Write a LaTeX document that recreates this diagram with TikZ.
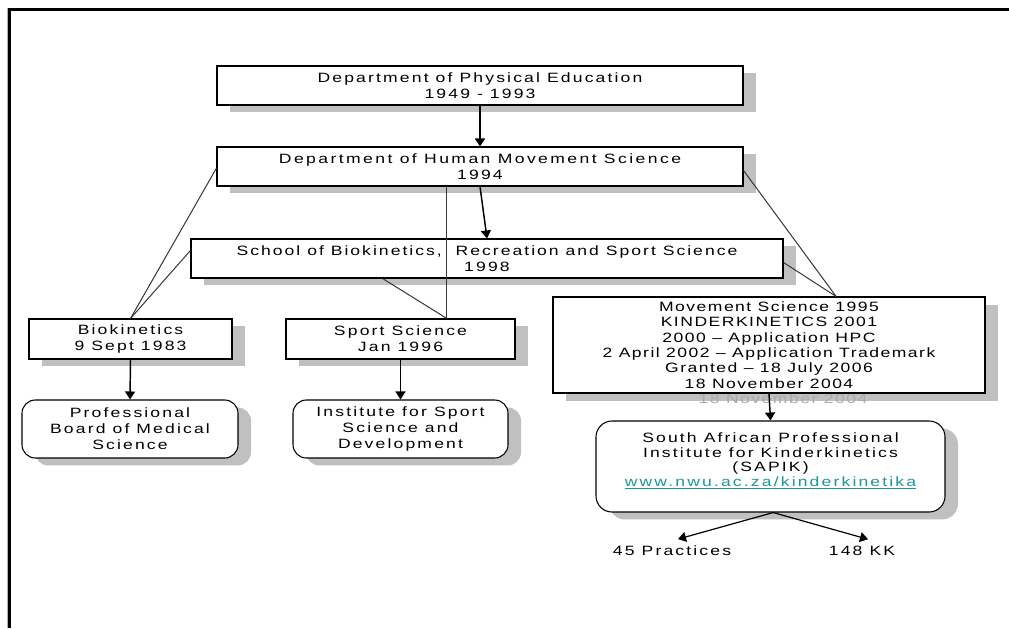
\documentclass[tikz,border=0pt]{standalone}
\usepackage{fontspec}
\setmainfont{Liberation Sans}[FakeStretch=1.3, LetterSpace=16]
\usetikzlibrary{arrows.meta,shadows,calc}
\definecolor{shadowgray}{RGB}{192,192,192}
\definecolor{linkteal}{RGB}{30,150,150}
\definecolor{ghostgray}{RGB}{170,170,170}
\definecolor{lineg}{RGB}{55,55,55}
\begin{document}
\begin{tikzpicture}[x=0.75pt,y=-0.75pt,
  every node/.style={font=\fontsize{10.125pt}{12pt}\selectfont, align=center, inner sep=0pt},
  box/.style={draw=black, line width=0.8pt, fill=white,
    drop shadow={shadow xshift=9.75pt, shadow yshift=-5.6pt, fill=shadowgray, opacity=1}},
  rbox/.style={box, rounded corners=10pt},
  conn/.style={draw=lineg, line width=0.75pt},
  arr/.style={draw=black, line width=1.1pt, -{Triangle[length=6pt,width=7.5pt]}},
  lbl/.style={inner sep=1pt}
]
\useasboundingbox (0,0) rectangle (1009,628);
\fill[white] (0,0) rectangle (1009,628);
% frame
\draw[gray!60, line width=0.75pt] (7,628) -- (7,8);
\draw[black, line width=2.4pt] (9.5,628) -- (9.5,9.5) -- (1009,9.5);

% boxes
\node[box, minimum width=394.5pt, minimum height=29.25pt] (b1) at (480,85.5)
  {Department of Physical Education\\1949 - 1993};
\node[box, minimum width=394.5pt, minimum height=29.25pt] (b2) at (480,166.5)
  {\addfontfeatures{LetterSpace=18}Department of Human Movement Science\\1994};
\node[box, minimum width=444pt, minimum height=29.25pt] (b3) at (487,258.5)
  {\addfontfeatures{LetterSpace=15}School of Biokinetics,\ \ Recreation and Sport Science\\1998};
\node[box, minimum width=152.25pt, minimum height=30pt] (bio) at (130.5,339)
  {Biokinetics\\9 Sept 1983};
\node[box, minimum width=171.75pt, minimum height=30pt] (sp) at (400.5,339)
  {Sport Science\\Jan 1996};

% movement science box with its shadow and ghost text
\fill[shadowgray] (566,304.5) rectangle (998,400.5);
\node[text=ghostgray, font=\fontsize{10.125pt}{11.55pt}\selectfont\addfontfeatures{LetterSpace=11}] (ghost) at (783,399) {18 November 2004};
\node[draw=black, line width=0.8pt, fill=white, minimum width=324pt, minimum height=72pt,
  font=\fontsize{10.125pt}{11.55pt}\selectfont\addfontfeatures{LetterSpace=11}] (mv) at (769,345)
  {Movement Science 1995\\KINDERKINETICS 2001\\2000 -- Application HPC\\2 April 2002 -- Application Trademark\\Granted -- 18 July 2006\\18 November 2004};

\node[rbox, minimum width=162pt, minimum height=43.5pt] (prof) at (130,429)
  {Professional\\Board of Medical\\Science};
\node[rbox, minimum width=161.25pt, minimum height=43.5pt] (inst) at (400.5,429)
  {Institute for Sport\\Science and\\Development};
\node[rbox, rounded corners=12pt, minimum width=261.75pt, minimum height=68.25pt] (sapik) at (770.5,466.5) {};
\node[font=\fontsize{10.125pt}{11pt}\selectfont] (sapiktext) at (770.5,461)
  {South African Professional\\Institute for Kinderkinetics\\(SAPIK)\\\textcolor{linkteal}{\underline{www.nwu.ac.za/kinderkinetika}}};

\node[lbl] (prac) at (672,551) {45 Practices};
\node[lbl] (kk) at (862,551) {148 KK};

% connection points
\coordinate (v) at ($(b2.south west)!0.437!(b2.south east)$);
\coordinate (sptop) at (v |- sp.north);
\coordinate (mvtop) at ($(mv.north west)!0.655!(mv.north east)$);

% plain connectors
\draw[conn] ($(b2.north west)!0.54!(b2.south west)$) -- (bio.north);
\draw[conn] ($(b3.north west)!0.3!(b3.south west)$) -- (bio.north);
\draw[conn] (v) -- (sptop);
\draw[conn] ($(b3.south west)!0.324!(b3.south east)$) -- (sptop);
\draw[conn] ($(b2.north east)!0.6!(b2.south east)$) -- (mvtop);
\draw[conn] ($(b3.north east)!0.6!(b3.south east)$) -- (mvtop);

% arrows
\draw[arr] (b1.south) -- (b2.north);
\draw[arr] (b2.south) -- (b3.north);
\draw[arr] (bio.south) -- (prof.north);
\draw[arr] (sp.south) -- (inst.north);
\draw[arr] (mv.south) -- (sapik.north);
\draw[arr, line width=0.9pt] ([xshift=2pt]sapik.south) -- ([xshift=4.5pt,yshift=4pt]prac.north);
\draw[arr, line width=0.9pt] ([xshift=2pt]sapik.south) -- ([xshift=4.5pt,yshift=4pt]kk.north);
\end{tikzpicture}
\end{document}
